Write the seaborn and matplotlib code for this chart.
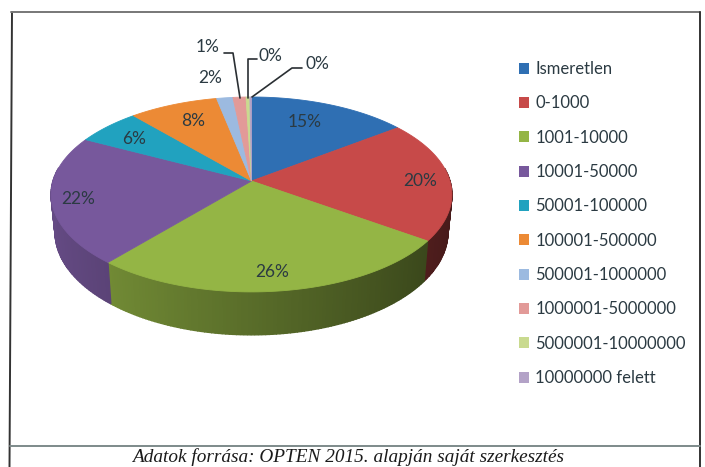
import numpy as np
import matplotlib
matplotlib.use('Agg')
import matplotlib.pyplot as plt
from matplotlib.patches import Polygon, Patch
import seaborn as sns

categories = ['Ismeretlen', '0-1000', '1001-10000', '10001-50000', '50001-100000',
              '100001-500000', '500001-1000000', '1000001-5000000',
              '5000001-10000000', '10000000 felett']
# shares, the printed labels are rounded
values = [14.7, 20.1, 26.4, 21.4, 6.0, 8.2, 1.5, 1.2, 0.35, 0.15]
pct_labels = ['15%', '20%', '26%', '22%', '6%', '8%', '2%', '1%', '0%', '0%']
colors = ['#2F6FB3', '#C74A49', '#94B545', '#77589C', '#21A2BF',
          '#EC8A35', '#9CBAE0', '#E29A98', '#C9DA8F', '#B3A2C7']
source = 'Adatok forrása: OPTEN 2015. alapján saját szerkesztés'

sns.set_theme(style='white')
plt.rcParams['font.family'] = ['Lato', 'DejaVu Sans']
palette = sns.color_palette(colors)

fig, ax = plt.subplots(figsize=(7.05, 4.67), dpi=100)
ax.set_position([0, 0, 1, 1])
ax.set_xlim(0, 705)
ax.set_ylim(467, 0)
ax.axis('off')

# pie in perspective: angle is clockwise from the top
cx, cy, rx, ry, k, depth = 251.5, 181, 198.5, 95.6, 0.138, 37


def project(a, drop=0.0, shrink=1.0):
    u, v = np.sin(a), np.cos(a)
    w = 1 / (1 + k * v)
    return cx + rx * u * w * shrink, cy - ry * v * w + drop * w


edges = np.cumsum([0] + values) / sum(values) * 2 * np.pi

# side wall, the lower rim is a little narrower than the top face
wall = []
for i, col in enumerate(palette):
    for a in np.linspace(edges[i], edges[i + 1], max(2, int(values[i] * 4))):
        wall.append((a, i))
for (a0, i0), (a1, i1) in zip(wall[:-1], wall[1:]):
    if i0 != i1 or np.cos((a0 + a1) / 2) > 0.14:
        continue
    x0, y0 = project(a0)
    x1, y1 = project(a1)
    x2, y2 = project(a1, depth, 0.98)
    x3, y3 = project(a0, depth, 0.98)
    # darker towards the right hand side
    shade = 0.6 - 0.25 * np.sin((a0 + a1) / 2)
    c = np.array(palette[i0]) * shade
    ax.add_patch(Polygon([(x0, y0), (x1, y1), (x2, y2), (x3, y3)], closed=True,
                         facecolor=c, edgecolor=c, lw=1.0, zorder=2))

# top face
for i, col in enumerate(palette):
    a = np.linspace(edges[i], edges[i + 1], 80)
    xs, ys = project(a)
    pts = [(cx, cy)] + list(zip(xs, ys))
    ax.add_patch(Polygon(pts, closed=True, facecolor=col, edgecolor=col,
                         lw=0.6, zorder=3))

# percent labels
label_xy = [(305, 122), (420, 181), (272, 272), (78, 199), (134, 139),
            (193, 121), (210, 78), (208, 47), (270, 56), (317, 64)]
for lab, (x, y) in zip(pct_labels, label_xy):
    ax.text(x, y, lab, ha='center', va='center', fontsize=12.5, color='#2b3a42', zorder=5)

# leader lines of the small slices
leaders = [[(224, 53), (233, 53), (240, 98)],
           [(257, 59), (248, 59), (248, 98)],
           [(302, 68), (292, 68), (252, 97)]]
for line in leaders:
    ax.plot(*zip(*line), color='#2a2f33', lw=1.2, zorder=5)

handles = [Patch(facecolor=c, edgecolor='none') for c in palette]
ax.legend(handles, categories, loc='upper left', bbox_to_anchor=(519 / 705, 1 - 61 / 467),
          frameon=False, fontsize=12, labelspacing=1.10, handlelength=0.62,
          handleheight=0.62, handletextpad=0.35, borderpad=0, borderaxespad=0,
          labelcolor='#2b3a42')

# frame and source line, no line along the bottom
ax.plot([12, 9.5], [12, 467], color='#333333', lw=1.4)
ax.plot([11, 700], [12, 12], color='#777777', lw=1.4)
ax.plot([700, 700], [12, 467], color='#333333', lw=1.4)
ax.plot([10, 700], [446, 446], color='#7d8a8a', lw=1.4)
ax.text(348, 457, source, ha='center', va='center', fontsize=13.85, style='italic',
        family='Liberation Serif', color='#1a1a1a')

fig.savefig('out.png', dpi=100)
